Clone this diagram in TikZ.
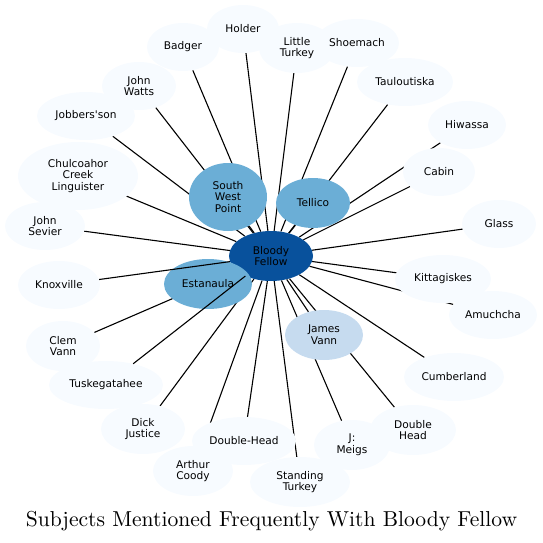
\documentclass[tikz,border=0pt]{standalone}
\usepackage{fontspec}
\newfontfamily\labelfont{DejaVu Sans}
\newfontfamily\titlefont{lmroman10-regular}[Extension=.otf]
\usetikzlibrary{shapes.geometric,backgrounds}
\definecolor{centreblue}{HTML}{08519C}
\definecolor{midblue}{HTML}{6BAED6}
\definecolor{lightblue}{HTML}{C6DBEF}
\definecolor{paleblue}{HTML}{F7FBFF}
\begin{document}
\begin{tikzpicture}[x=1pt,y=-1pt,
	subject/.style={ellipse, fill=paleblue, inner sep=0pt, align=center,
		font=\labelfont\fontsize{10.6}{11.8}\selectfont, minimum height=48pt},
	spoke/.style={line width=1.1pt, black}]
	\useasboundingbox (0,0) rectangle (543,543);
	% inner ring
	\node[subject, fill=centreblue, minimum width=84pt, minimum height=50pt] (bf) at (271,256) {Bloody\\Fellow};
	\node[subject, fill=midblue, minimum width=78pt, minimum height=68pt] (swp) at (228,197) {South\\West\\Point};
	\node[subject, fill=midblue, minimum width=74pt, minimum height=50pt] (tellico) at (313,203) {Tellico};
	\node[subject, fill=midblue, minimum width=88pt, minimum height=50pt] (estanaula) at (208,284) {Estanaula};
	\node[subject, fill=lightblue, minimum width=78pt, minimum height=50pt] (jvann) at (324,335) {James\\Vann};
	% outer ring
	\node[subject, minimum width=72pt] (holder) at (243,29) {Holder};
	\node[subject, minimum width=72pt] (badger) at (183,47) {Badger};
	\node[subject, minimum width=74pt] (jwatts) at (139,86) {John\\Watts};
	\node[subject, minimum width=98pt] (jobbers) at (86,116) {Jobbers\textquotesingle son};
	\node[subject, minimum width=120pt, minimum height=68pt] (chulco) at (78,176) {Chulcoahor\\Creek\\Linguister};
	\node[subject, minimum width=80pt] (jsevier) at (45,226) {John\\Sevier};
	\node[subject, minimum width=76pt, minimum height=50pt] (lturkey) at (297,48) {Little\\Turkey};
	\node[subject, minimum width=84pt] (shoemach) at (357,43) {Shoemach};
	\node[subject, minimum width=96pt] (taulou) at (405,82) {Tauloutiska};
	\node[subject, minimum width=78pt] (hiwassa) at (467,125) {Hiwassa};
	\node[subject, minimum width=72pt] (cabin) at (439,172) {Cabin};
	\node[subject, minimum width=74pt] (glass) at (499,224) {Glass};
	\node[subject, minimum width=96pt] (kitta) at (443,279) {Kittagiskes};
	\node[subject, minimum width=88pt] (amuch) at (493,315) {Amuchcha};
	\node[subject, minimum width=100pt] (cumber) at (454,377) {Cumberland};
	\node[subject, minimum width=86pt, minimum height=50pt] (dhead) at (413,430) {Double\\Head};
	\node[subject, minimum width=76pt, minimum height=50pt] (meigs) at (352,445) {J:\\Meigs};
	\node[subject, minimum width=104pt] (dblhead) at (244,441) {Double-Head};
	\node[subject, minimum width=100pt, minimum height=50pt] (sturkey) at (300,482) {Standing\\Turkey};
	\node[subject, minimum width=80pt, minimum height=50pt] (acoody) at (193,471) {Arthur\\Coody};
	\node[subject, minimum width=84pt, minimum height=50pt] (djustice) at (143,429) {Dick\\Justice};
	\node[subject, minimum width=114pt] (tusk) at (106,385) {Tuskegatahee};
	\node[subject, minimum width=74pt, minimum height=50pt] (clem) at (63,346) {Clem\\Vann};
	\node[subject, minimum width=82pt] (knox) at (59,285) {Knoxville};
	% spokes
	\begin{scope}[on background layer]
		\foreach \n in {swp,tellico,estanaula,jvann,holder,badger,jwatts,jobbers,chulco,jsevier,
			lturkey,shoemach,taulou,hiwassa,cabin,glass,kitta,amuch,cumber,dhead,meigs,
			dblhead,sturkey,acoody,djustice,clem}
			\draw[spoke] (bf) -- (\n);
	\end{scope}
	\draw[spoke] (bf) -- (knox);
	\draw[spoke] (bf) -- (tusk);
	\node[font=\titlefont\fontsize{21.6}{24}\selectfont] (title) at (271.5,521) {Subjects Mentioned Frequently With Bloody Fellow};
\end{tikzpicture}
\end{document}
